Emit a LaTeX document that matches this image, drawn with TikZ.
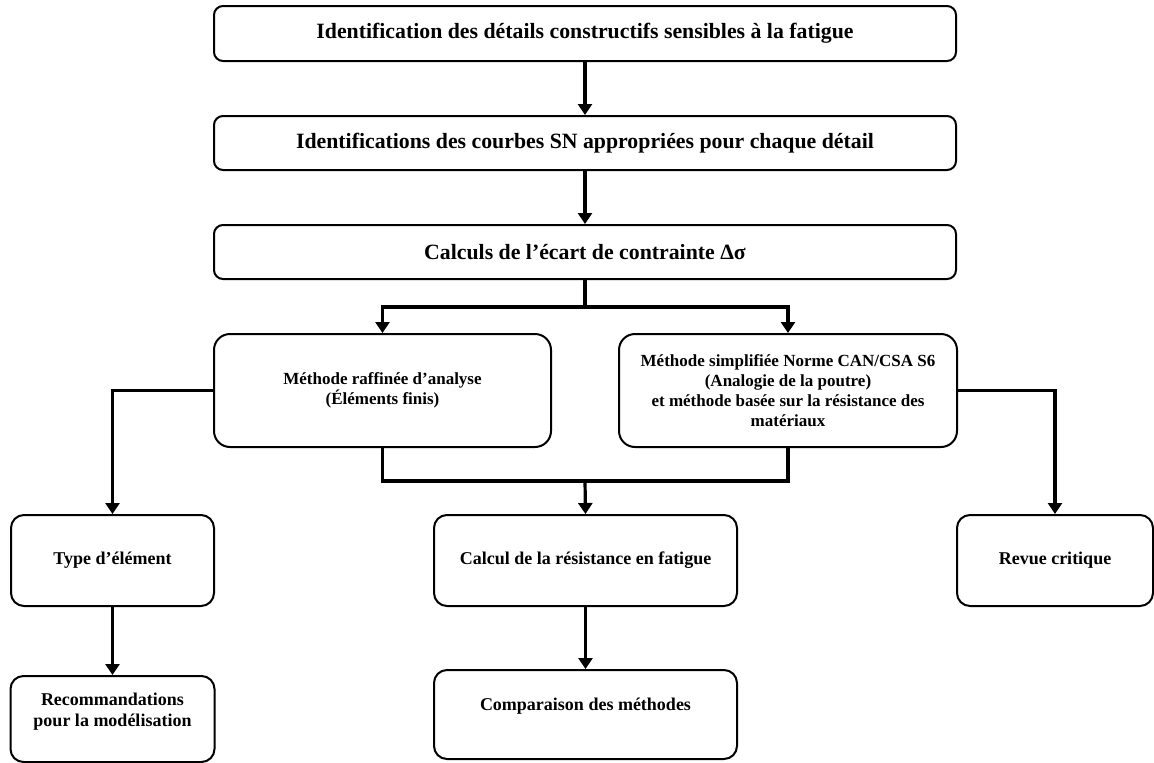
\documentclass[tikz,border=0pt]{standalone}
\usepackage{fontspec}
\setmainfont{Liberation Serif}
\usetikzlibrary{arrows.meta}
\begin{document}
\begin{tikzpicture}[x=1pt,y=-1pt,
  box/.style={draw=black,line width=2pt,rectangle,align=center,inner sep=0pt,font=\bfseries},
  topbox/.style={box,rounded corners=9pt,font=\fontsize{21.8}{24}\selectfont\bfseries},
  midbox/.style={box,rounded corners=16pt,font=\fontsize{17}{20}\selectfont\bfseries},
  lowbox/.style={box,rounded corners=13pt,font=\fontsize{18}{21}\selectfont\bfseries},
  lowtext/.style={draw=none,align=center,inner sep=0pt,font=\fontsize{18}{21}\selectfont\bfseries},
  conn/.style={line width=3.2pt,-{Triangle[width=14pt,length=11pt]}},
  seg/.style={line width=3.2pt}]
\useasboundingbox (0,0) rectangle (1154,763);
\node[topbox,minimum width=742pt,minimum height=55pt] (t1) at (585,33.5) {Identification des détails constructifs sensibles à la fatigue};
\node[topbox,minimum width=742pt,minimum height=54pt] (t2) at (585,143) {Identifications des courbes SN appropriées pour chaque détail};
\node[topbox,minimum width=742pt,minimum height=54pt] (t3) at (585,252) {Calculs de l’écart de contrainte Δσ};
\node[midbox,minimum width=337pt,minimum height=113pt] (lm) at (382.5,390.5) {Méthode raffinée d’analyse\\(Éléments finis)};
\node[midbox,minimum width=338pt,minimum height=113pt] (rm) at (788,390.5) {Méthode simplifiée Norme CAN/CSA S6\\(Analogie de la poutre)\\et méthode basée sur la résistance des\\matériaux};
\node[lowbox,minimum width=203pt,minimum height=91pt] (te) at (112.5,560.5) {Type d’élément};
\node[lowbox,minimum width=303pt,minimum height=91pt] (cr) at (585.5,560.5) {Calcul de la résistance en fatigue};
\node[lowbox,minimum width=196pt,minimum height=91pt] (rc) at (1055,560.5) {Revue critique};
\node[lowbox,minimum width=204pt,minimum height=86pt] (rec) at (112.5,719) {};
\node[lowtext] (rect) at (112.5,712) {Recommandations\\pour la modélisation};
\node[lowbox,minimum width=303pt,minimum height=89pt] (cmp) at (585.5,714.5) {};
\node[lowtext] (cmpt) at (585.5,706) {Comparaison des méthodes};
\coordinate (split) at (585,307);
\coordinate (join) at (585,481);
\draw[conn] (t1.south) -- (t2.north);
\draw[conn] (t2.south) -- (t3.north);
\draw[seg] (t3.south) -- (split);
\draw[conn] (split) -| (lm.north);
\draw[conn] (split) -| (rm.north);
\draw[conn] (lm.west) -| (te.north);
\draw[conn] (rm.east) -| (rc.north);
\draw[seg] (lm.south) |- (join);
\draw[seg] (rm.south) |- (join);
\draw[conn] (join) -- (cr.north);
\draw[conn] (te.south) -- (rec.north);
\draw[conn] (cr.south) -- (cmp.north);
\end{tikzpicture}
\end{document}
